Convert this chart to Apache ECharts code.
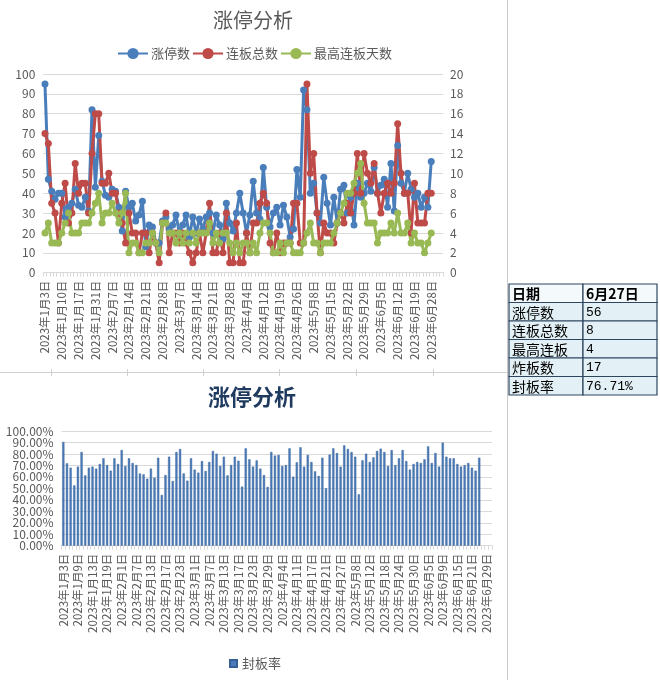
<!DOCTYPE html>
<html><head><meta charset="utf-8">
<script src="https://cdn.jsdelivr.net/npm/echarts@6/dist/echarts.min.js"></script>
<style>html,body{margin:0;padding:0;background:#fff}#c{width:660px;height:680px}</style>
</head><body><div id="c"></div>
<script>
const dates = [
'2023年1月3日','2023年1月4日','2023年1月5日','2023年1月6日','2023年1月9日','2023年1月10日','2023年1月11日','2023年1月12日','2023年1月13日','2023年1月16日','2023年1月17日','2023年1月18日','2023年1月19日','2023年1月20日','2023年1月30日','2023年1月31日',
'2023年2月1日','2023年2月2日','2023年2月3日','2023年2月6日','2023年2月7日','2023年2月8日','2023年2月9日','2023年2月10日','2023年2月13日','2023年2月14日','2023年2月15日','2023年2月16日','2023年2月17日','2023年2月20日','2023年2月21日','2023年2月22日','2023年2月23日','2023年2月24日','2023年2月27日','2023年2月28日',
'2023年3月1日','2023年3月2日','2023年3月3日','2023年3月6日','2023年3月7日','2023年3月8日','2023年3月9日','2023年3月10日','2023年3月13日','2023年3月14日','2023年3月15日','2023年3月16日','2023年3月17日','2023年3月20日','2023年3月21日','2023年3月22日','2023年3月23日','2023年3月24日','2023年3月27日','2023年3月28日','2023年3月29日','2023年3月30日','2023年3月31日',
'2023年4月3日','2023年4月4日','2023年4月6日','2023年4月7日','2023年4月10日','2023年4月11日','2023年4月12日','2023年4月13日','2023年4月14日','2023年4月17日','2023年4月18日','2023年4月19日','2023年4月20日','2023年4月21日','2023年4月24日','2023年4月25日','2023年4月26日','2023年4月27日','2023年4月28日',
'2023年5月4日','2023年5月5日','2023年5月8日','2023年5月9日','2023年5月10日','2023年5月11日','2023年5月12日','2023年5月15日','2023年5月16日','2023年5月17日','2023年5月18日','2023年5月19日','2023年5月22日','2023年5月23日','2023年5月24日','2023年5月25日','2023年5月26日','2023年5月29日','2023年5月30日','2023年5月31日',
'2023年6月1日','2023年6月2日','2023年6月5日','2023年6月6日','2023年6月7日','2023年6月8日','2023年6月9日','2023年6月12日','2023年6月13日','2023年6月14日','2023年6月15日','2023年6月16日','2023年6月19日','2023年6月20日','2023年6月21日','2023年6月26日','2023年6月27日','2023年6月28日','2023年6月29日','2023年6月30日',
'2023年7月3日'];

// 涨停数 (left axis)
const ztCount = [
95,47,41,37,40,40,28,33,35,42,
34,33,38,31,82,43,69,46,39,38,
42,41,33,21,41,33,35,26,29,36,
13,24,23,15,15,26,28,22,24,29,
20,24,29,18,28,20,27,22,28,30,
20,29,24,17,35,25,21,30,40,30,
20,29,46,30,27,53,33,23,30,33,
24,34,28,18,22,52,38,92,82,40,
45,30,25,48,35,24,38,25,42,44,
30,38,24,45,38,40,45,41,53,40,
44,47,33,55,31,64,45,40,50,42,
38,40,33,38,33,56];

// 连板总数 (right axis)
const lbTotal = [
14,13,7,6,3,7,9,5,6,11,
8,9,9,6,12,16,16,9,9,10,
8,8,6,5,3,6,4,4,2,4,
4,2,4,3,1,5,6,2,4,4,
3,4,3,2,1,2,4,2,4,7,
2,2,4,2,6,1,1,5,1,1,
4,2,5,5,7,8,7,3,2,4,
2,3,3,3,7,7,3,3,19,10,
12,6,2,5,4,4,3,5,6,5,
7,6,8,12,8,12,10,9,11,8,
6,8,9,8,9,15,10,8,8,4,
9,5,5,5,8,8];

// 最高连板天数 (right axis)
const maxDays = [
4,5,3,3,3,4,5,6,4,4,
4,5,5,5,6,7,8,5,6,6,
7,6,5,6,8,2,3,3,2,2,
3,3,4,3,2,5,5,4,4,3,
4,3,4,3,4,3,4,4,4,5,
3,4,3,4,4,3,2,3,2,3,
3,2,3,2,4,5,5,4,2,2,
3,2,3,3,2,2,2,3,4,5,
3,3,2,3,3,3,4,5,6,7,
8,8,9,10,11,7,5,5,5,3,
4,4,4,5,4,6,4,4,5,3,
4,3,3,2,3,4];

// 封板率 (%)
const sealRate = [
90.4,71.8,68.0,52.6,68.9,81.7,61.3,68.0,68.9,67.2,
71.2,76.2,70.3,65.4,76.2,71.2,83.4,69.5,76.2,72.1,
70.3,63.0,62.2,58.4,67.2,59.3,76.7,44.2,61.6,77.6,
56.4,81.7,84.3,63.0,56.7,76.2,66.3,63.7,73.8,65.1,
73.0,82.6,80.2,69.5,77.6,61.3,70.3,77.6,74.1,51.5,
84.9,75.3,68.9,74.4,67.2,61.6,51.2,81.7,78.5,79.1,
69.5,70.3,84.9,60.2,72.7,85.8,68.9,79.1,73.0,64.8,
60.8,76.7,50.0,79.4,84.9,80.8,68.9,87.5,84.3,81.7,
77.6,44.8,74.4,80.2,73.0,77.0,82.6,84.6,81.7,69.5,
83.4,70.3,76.2,83.4,73.8,66.3,71.2,73.0,72.1,75.3,
86.6,72.1,80.8,68.9,89.8,77.6,76.2,76.2,71.2,68.9,
70.3,72.1,68.0,65.4,76.71];

// tick labels of the 封板率 axis
const rateTicks = ['0.00%','10.00%','20.00%','30.00%','40.00%','50.00%','60.00%','70.00%','80.00%','90.00%','100.00%'];

const tableLabels = ['日期','涨停数','连板总数','最高连板','炸板数','封板率'];
const tableValues = ['6月27日','56','8','4','17','76.71%'];

const FONT = '"Noto Sans CJK SC","Noto Sans",sans-serif';
const GREY = '#595959';
const C_BLUE = '#4A7EBB', C_RED = '#BE4B48', C_GREEN = '#98B954';

const topDates = dates.slice(0, 119);
const botDates = dates.slice(0, 118);

// table graphics
const tbl = [];
const tx0 = 509, tx1 = 583, tx2 = 657, ty0 = 284, rh = 18.5;
tableLabels.forEach((lab, r) => {
  const y = ty0 + r * rh;
  const fill = r === 0 ? '#F4F9FB' : '#E3F0F5';
  tbl.push({type:'rect', shape:{x:tx0, y:y, width:tx1-tx0, height:rh}, style:{fill:fill, stroke:'#2E4660', lineWidth:1.2}});
  tbl.push({type:'rect', shape:{x:tx1, y:y, width:tx2-tx1, height:rh}, style:{fill:fill, stroke:'#2E4660', lineWidth:1.2}});
  tbl.push({type:'text', x:tx0+3, y:y+rh/2+0.5, style:{text:lab, font:(r===0?'bold ':'')+'14px '+FONT, fill:'#000', textVerticalAlign:'middle'}});
  tbl.push({type:'text', x:tx1+3, y:y+rh/2+0.5, style:{text:tableValues[r], font:(r===0?'bold 14px '+FONT:'13px "Liberation Mono","DejaVu Sans Mono",monospace'), fill:'#000', textVerticalAlign:'middle'}});
});

const seps = [
  {type:'line', shape:{x1:507.5, y1:0, x2:507.5, y2:680}, style:{stroke:'#C8C8C8', lineWidth:1}},
  {type:'line', shape:{x1:0, y1:372.5, x2:507, y2:372.5}, style:{stroke:'#D0D0D0', lineWidth:1}}
];
[51,127,203,279,356,433].forEach(x => seps.push({type:'line', shape:{x1:x+0.5, y1:369, x2:x+0.5, y2:376}, style:{stroke:'#D0D0D0', lineWidth:1}}));

const chart = echarts.init(document.getElementById('c'));
chart.setOption({
  backgroundColor:'#fff',
  animation:false,
  textStyle:{fontFamily:FONT},
  title:[
    {text:'涨停分析', left:213, top:10, padding:0, textStyle:{fontSize:20, fontWeight:'normal', color:GREY, fontFamily:FONT}},
    {text:'涨停分析', left:208, top:386, padding:0, textStyle:{fontSize:22, fontWeight:'bold', color:'#1F3A5F', fontFamily:FONT}}
  ],
  legend:[
    {data:['涨停数','连板总数','最高连板天数'], left:117, top:47, padding:0, itemWidth:30, itemHeight:14, itemGap:2,
     textStyle:{fontSize:13, color:GREY, fontFamily:FONT, padding:[0,0,0,-2]}},
    {data:['封板率'], left:229, top:657, padding:0, icon:'rect', itemWidth:7, itemHeight:7, itemGap:4,
     textStyle:{fontSize:13, color:GREY, fontFamily:FONT}}
  ],
  grid:[
    {left:43.3, top:74, width:399.7, height:198.7},
    {left:61.5, top:431, width:430.5, height:114.7}
  ],
  xAxis:[
    {type:'category', gridIndex:0, data:topDates, boundaryGap:true,
     axisLine:{lineStyle:{color:'#D9D9D9'}},
     axisTick:{show:true, interval:0, length:4, lineStyle:{color:'#D9D9D9'}},
     axisLabel:{interval:4, rotate:90, fontSize:11.5, color:GREY, margin:8, fontFamily:FONT}},
    {type:'category', gridIndex:1, data:botDates, boundaryGap:true,
     axisLine:{lineStyle:{color:'#D9D9D9'}},
     axisTick:{show:true, interval:0, length:4, lineStyle:{color:'#D9D9D9'}},
     axisLabel:{interval:3, rotate:90, fontSize:11.5, color:GREY, margin:8, fontFamily:FONT}}
  ],
  yAxis:[
    {type:'value', gridIndex:0, min:0, max:100, interval:10,
     axisLine:{show:false}, axisTick:{show:false},
     splitLine:{lineStyle:{color:'#D9D9D9'}},
     axisLabel:{fontSize:12, color:GREY, margin:8, fontFamily:FONT}},
    {type:'value', gridIndex:0, position:'right', min:0, max:20, interval:2,
     axisLine:{show:false}, axisTick:{show:false}, splitLine:{show:false},
     axisLabel:{fontSize:12, color:GREY, margin:7, fontFamily:FONT}},
    {type:'value', gridIndex:1, position:'left', min:0, max:100, interval:10,
     axisLine:{show:false}, axisTick:{show:false},
     splitLine:{lineStyle:{color:'#D9D9D9'}},
     axisLabel:{show:false}},
    {type:'category', gridIndex:1, position:'left', offset:0, data:rateTicks, boundaryGap:false,
     axisLine:{show:false}, axisTick:{show:false}, splitLine:{show:false},
     axisLabel:{interval:0, fontSize:12, color:GREY, margin:8, fontFamily:FONT}}
  ],
  series:[
    {name:'涨停数', type:'line', xAxisIndex:0, yAxisIndex:0, data:ztCount, symbol:'circle', symbolSize:7, showAllSymbol:true,
     lineStyle:{width:3, color:C_BLUE}, itemStyle:{color:C_BLUE}},
    {name:'连板总数', type:'line', xAxisIndex:0, yAxisIndex:1, data:lbTotal, symbol:'circle', symbolSize:7, showAllSymbol:true,
     lineStyle:{width:3, color:C_RED}, itemStyle:{color:C_RED}},
    {name:'最高连板天数', type:'line', xAxisIndex:0, yAxisIndex:1, data:maxDays, symbol:'circle', symbolSize:7, showAllSymbol:true,
     lineStyle:{width:3, color:C_GREEN}, itemStyle:{color:C_GREEN}},
    {name:'封板率', type:'bar', xAxisIndex:1, yAxisIndex:2, data:sealRate, barWidth:2.2,
     itemStyle:{color:'#4A7BBA', borderColor:'#355F96', borderWidth:0.4}}
  ],
  graphic: seps.concat(tbl)
});
</script></body></html>
